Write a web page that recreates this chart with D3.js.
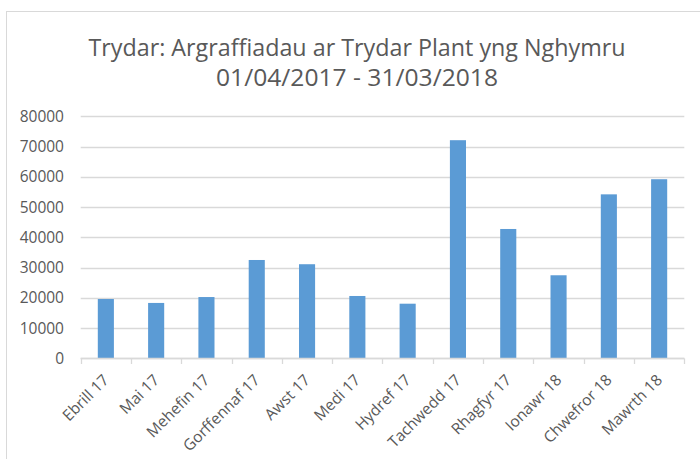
<!DOCTYPE html>
<html>
<head>
<meta charset="utf-8">
<script src="https://cdn.jsdelivr.net/npm/d3@7"></script>
<style>
  body { margin: 0; background: #fff; }
  svg { display: block; font-family: "Open Sans", sans-serif; }
</style>
</head>
<body>
<svg id="chart" width="700" height="459"></svg>
<script>
// months (Welsh) and Twitter impressions
var months = ['Ebrill 17', 'Mai 17', 'Mehefin 17', 'Gorffennaf 17', 'Awst 17', 'Medi 17',
    'Hydref 17', 'Tachwedd 17', 'Rhagfyr 17', 'Ionawr 18', 'Chwefror 18', 'Mawrth 18'];
var impressions = [19600, 18300, 20250, 32500, 31100, 20600, 18050, 72100, 42750, 27450, 54200, 59200];
var yTicks = [0, 10000, 20000, 30000, 40000, 50000, 60000, 70000, 80000];
var titleLines = ['Trydar: Argraffiadau ar Trydar Plant yng Nghymru', '01/04/2017 - 31/03/2018'];

var svg = d3.select('#chart');

// outer chart frame (cropped on right/bottom)
svg.append('rect')
    .attr('x', 6.5).attr('y', 11.5)
    .attr('width', 720).attr('height', 470)
    .attr('fill', 'none')
    .attr('stroke', '#d9d9d9');

var x = d3.scaleBand()
    .domain(months)
    .range([80.7, 684.3])
    .paddingInner(0.68)
    .paddingOuter(0.34);

var y = d3.scaleLinear()
    .domain([0, 80000])
    .range([358.3, 116.3]);

// gridlines
svg.append('g')
    .selectAll('line')
    .data(yTicks)
    .enter().append('line')
    .attr('x1', 80.7).attr('x2', 684.3)
    .attr('y1', d => Math.round(y(d)) + 0.5)
    .attr('y2', d => Math.round(y(d)) + 0.5)
    .attr('stroke', '#d9d9d9')
    .attr('stroke-width', 1.3);

// y tick labels
svg.append('g')
    .selectAll('text')
    .data(yTicks)
    .enter().append('text')
    .attr('x', 64)
    .attr('y', d => y(d))
    .attr('dy', '0.36em')
    .attr('text-anchor', 'end')
    .attr('fill', '#595959')
    .style('font-size', '15.5px')
    .text(d => d);

// bars
svg.append('g')
    .selectAll('rect')
    .data(impressions)
    .enter().append('rect')
    .attr('x', (d, i) => x(months[i]))
    .attr('width', x.bandwidth())
    .attr('y', d => y(d))
    .attr('height', d => y(0) - y(d))
    .attr('fill', '#5b9bd5');

// x axis line and ticks at band boundaries
var step = x.step();
var bounds = d3.range(months.length + 1).map(i => 80.7 + i * step);
svg.append('line')
    .attr('x1', 80.7).attr('x2', 684.3)
    .attr('y1', Math.round(y(0)) + 0.5).attr('y2', Math.round(y(0)) + 0.5)
    .attr('stroke', '#d9d9d9')
    .attr('stroke-width', 1.3);
svg.append('g')
    .selectAll('line')
    .data(bounds)
    .enter().append('line')
    .attr('x1', d => Math.round(d) + 0.5).attr('x2', d => Math.round(d) + 0.5)
    .attr('y1', Math.round(y(0)) + 0.5).attr('y2', Math.round(y(0)) + 6)
    .attr('stroke', '#d9d9d9')
    .attr('stroke-width', 1.3);

// rotated month labels
svg.append('g')
    .selectAll('text')
    .data(months)
    .enter().append('text')
    .attr('transform', d => 'translate(' + (x(d) + x.bandwidth() / 2 + 4) + ',' + 381 + ') rotate(-45)')
    .attr('text-anchor', 'end')
    .attr('fill', '#595959')
    .style('font-size', '15.5px')
    .text(d => d);

// title, fitted to the widths in the reference
var titleWidths = [537, 282];
svg.append('g')
    .selectAll('text')
    .data(titleLines)
    .enter().append('text')
    .attr('x', 357)
    .attr('y', (d, i) => 56 + i * 30)
    .attr('text-anchor', 'middle')
    .attr('fill', '#595959')
    .style('font-size', '24px')
    .attr('textLength', (d, i) => titleWidths[i])
    .attr('lengthAdjust', 'spacingAndGlyphs')
    .text(d => d);
</script>
</body>
</html>
